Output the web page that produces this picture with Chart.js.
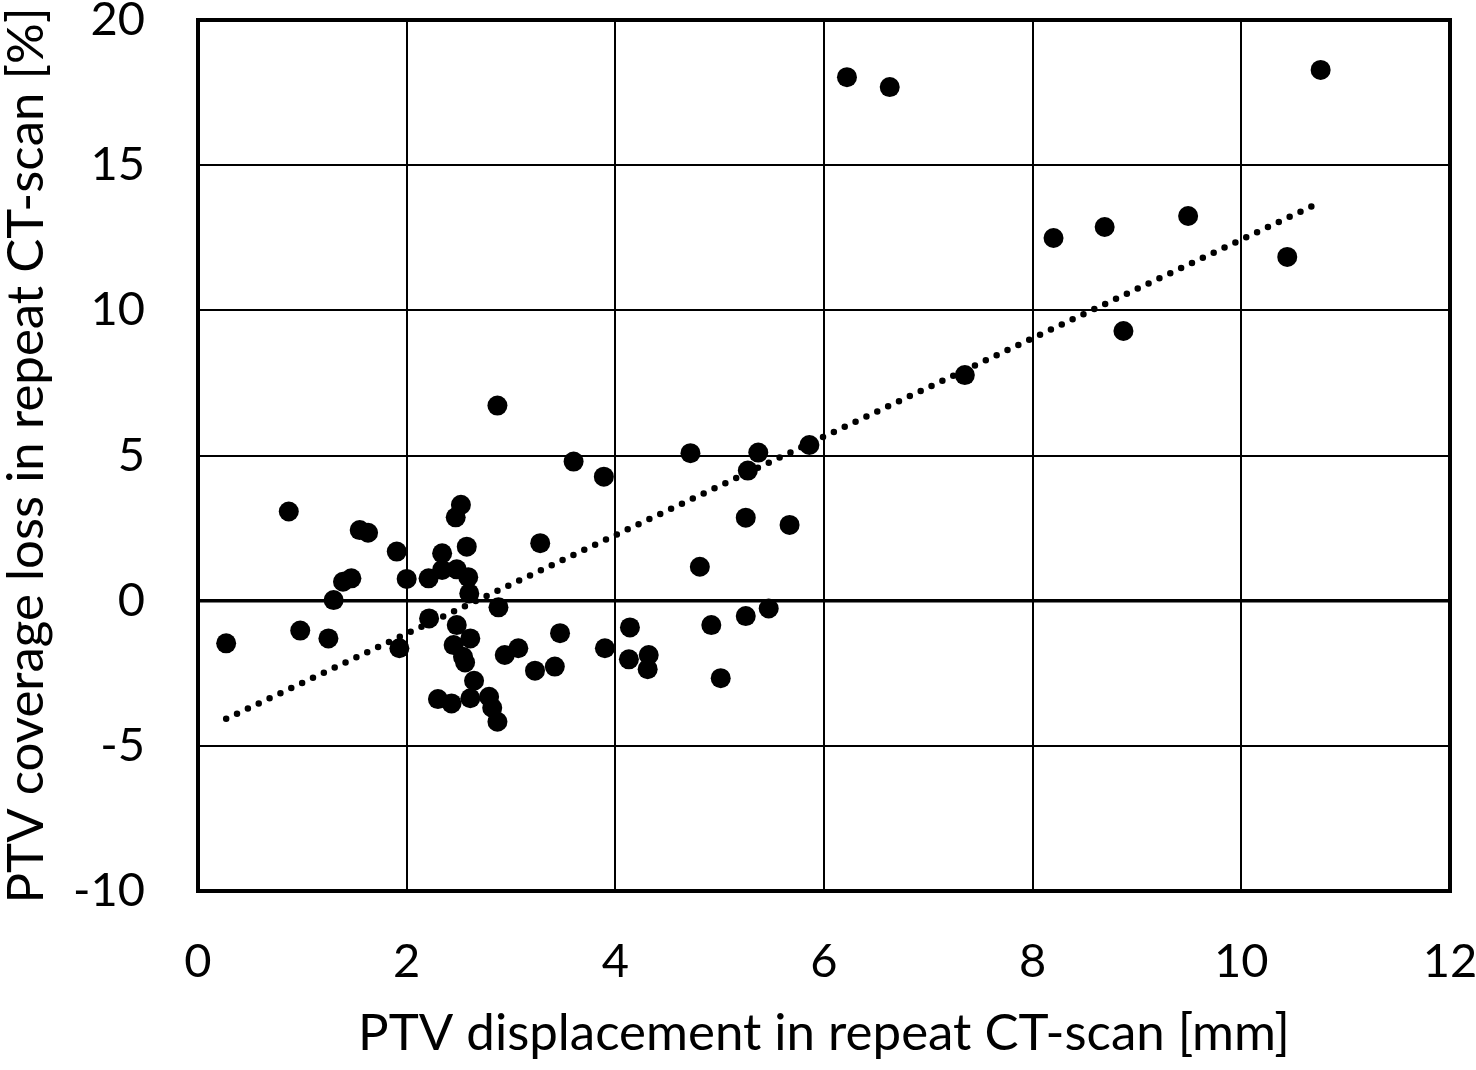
<!DOCTYPE html>
<html>
<head>
<meta charset="utf-8">
<script src="https://cdn.jsdelivr.net/npm/chart.js@4/dist/chart.umd.min.js"></script>
<style>
  html, body { margin: 0; padding: 0; background: #fff; }
  #wrap { width: 1476px; height: 1070px; position: relative; }
</style>
</head>
<body>
<div id="wrap"><canvas id="scatterChart"></canvas></div>
<script>
// displacement [mm] and coverage loss [%]
const displacement = [
  0.27, 0.87, 0.98, 1.25, 1.30, 1.39, 1.47, 1.55, 1.63, 1.905,
  1.93, 2.00, 2.21, 2.215, 2.30, 2.34, 2.34, 2.43, 2.45, 2.47,
  2.48, 2.48, 2.52, 2.54, 2.56, 2.576, 2.59, 2.60, 2.61, 2.61,
  2.646, 2.79, 2.82, 2.87, 2.87, 2.88, 2.94, 3.07, 3.23, 3.28,
  3.42, 3.47, 3.60, 3.89, 3.90, 4.13, 4.14, 4.31, 4.32, 4.72,
  4.81, 4.92, 5.01, 5.25, 5.25, 5.27, 5.37, 5.47, 5.67, 5.86,
  6.22, 6.63, 7.35, 8.20, 8.69, 8.87, 9.49, 10.44, 10.76
];
const coverageLoss = [
  -1.47, 3.07, -1.03, -1.30, 0.02, 0.65, 0.77, 2.43, 2.34, 1.69,
  -1.64, 0.75, 0.77, -0.61, -3.39, 1.63, 1.06, -3.54, -1.53, 2.87,
  1.08, -0.84, 3.30, -1.93, -2.13, 1.86, 0.81, 0.25, -1.30, -3.36,
  -2.76, -3.31, -3.69, -4.17, 6.72, -0.23, -1.87, -1.64, -2.41, 1.98,
  -2.27, -1.12, 4.79, 4.27, -1.64, -2.02, -0.92, -2.36, -1.87, 5.08,
  1.17, -0.84, -2.67, 2.86, -0.53, 4.48, 5.10, -0.27, 2.61, 5.36,
  18.03, 17.69, 7.77, 12.49, 12.87, 9.29, 13.25, 11.84, 18.28
];
// dotted trend line end points
const trendX = [0.27, 10.74];
const trendY = [-4.07, 13.69];

const xTicks = [0, 2, 4, 6, 8, 10, 12];
const yTicks = [-10, -5, 0, 5, 10, 15, 20];

const FONT = 'Lato, "Open Sans", sans-serif';

const frame = {
  id: 'frame',
  afterDraw(chart) {
    const { ctx, chartArea: a } = chart;
    ctx.save();
    ctx.strokeStyle = '#000';
    ctx.lineWidth = 4;
    ctx.strokeRect(a.left, a.top, a.right - a.left, a.bottom - a.top);
    ctx.restore();
  }
};

new Chart(document.getElementById('scatterChart'), {
  type: 'scatter',
  data: {
    datasets: [
      {
        data: displacement.map((x, i) => ({ x: x, y: coverageLoss[i] })),
        backgroundColor: '#000', borderWidth: 0, pointRadius: 10, pointHoverRadius: 10, order: 1
      },
      {
        type: 'line',
        data: trendX.map((x, i) => ({ x: x, y: trendY[i] })),
        borderColor: '#000', borderWidth: 6.5, borderDash: [0, 12], borderCapStyle: 'round',
        pointRadius: 0, fill: false, order: 2
      }
    ]
  },
  options: {
    responsive: true, maintainAspectRatio: false, animation: false,
    layout: { padding: { top: 20, right: 26, left: 0, bottom: 0 } },
    plugins: { legend: { display: false }, tooltip: { enabled: false } },
    scales: {
      x: {
        type: 'linear', min: 0, max: 12,
        afterBuildTicks: s => { s.ticks = xTicks.map(v => ({ value: v })); },
        afterFit: s => { s.height = 179; s.paddingLeft = 0; s.paddingRight = 0; },
        grid: { color: '#000', lineWidth: 2, drawTicks: false },
        border: { display: false },
        ticks: { color: '#000', padding: 43, maxRotation: 0, font: { family: FONT, size: 47 } },
        title: {
          display: true, text: 'PTV displacement in repeat CT-scan [mm]', color: '#000',
          padding: { top: 0, bottom: 6 }, font: { family: FONT, size: 51 }
        }
      },
      y: {
        type: 'linear', min: -10, max: 20,
        afterBuildTicks: s => { s.ticks = yTicks.map(v => ({ value: v })); },
        afterFit: s => { s.width = 198; s.paddingTop = 0; s.paddingBottom = 0; },
        grid: {
          color: '#000', drawTicks: false,
          lineWidth: c => (c.tick && c.tick.value === 0 ? 3.5 : 2)
        },
        border: { display: false },
        ticks: { color: '#000', padding: 53, font: { family: FONT, size: 47 } },
        title: {
          display: true, text: 'PTV coverage loss in repeat CT-scan [%]', color: '#000',
          padding: { top: -4, bottom: 0 }, font: { family: FONT, size: 51 }
        }
      }
    }
  },
  plugins: [frame]
});
</script>
</body>
</html>
